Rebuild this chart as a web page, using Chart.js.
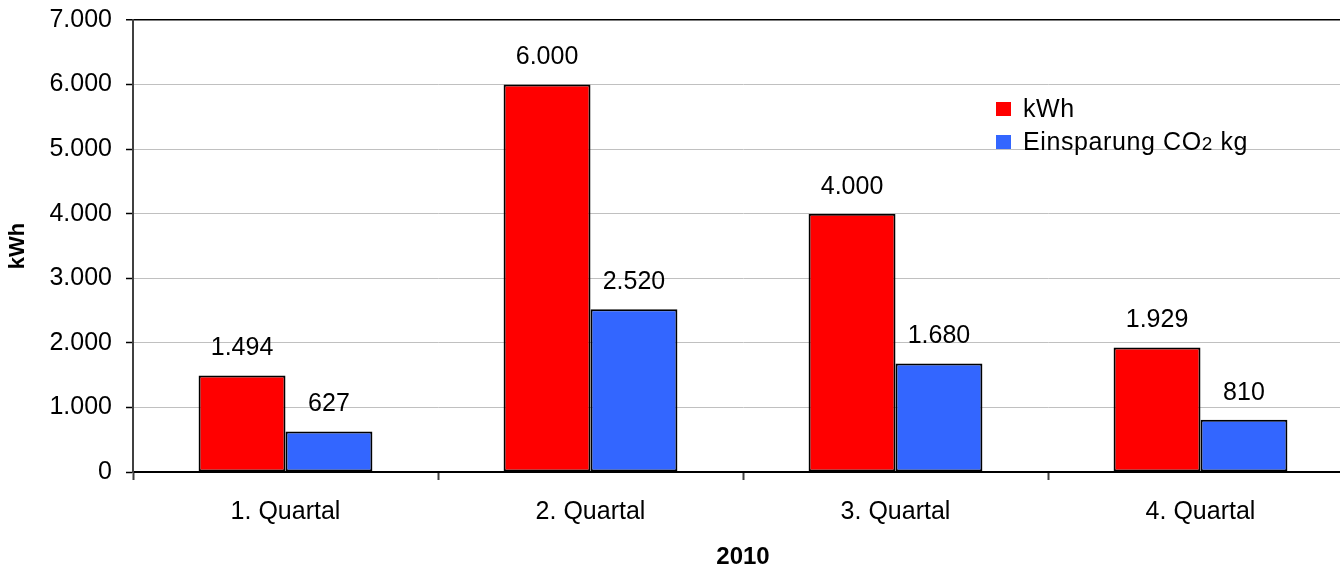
<!DOCTYPE html>
<html>
<head>
<meta charset="utf-8">
<script src="https://cdn.jsdelivr.net/npm/chart.js@4.4.1/dist/chart.umd.min.js"></script>
<style>
  html, body { margin: 0; padding: 0; background: #fff; overflow: hidden; }
  #wrap { width: 1353px; height: 569px; }
</style>
</head>
<body>
<div id="wrap"><canvas id="c" width="1353" height="569"></canvas></div>
<script>
const categories = ['1. Quartal', '2. Quartal', '3. Quartal', '4. Quartal'];
const kwhValues = [1494, 6000, 4000, 1929];
const co2Values = [627, 2520, 1680, 810];
const seriesNames = ['kWh', 'Einsparung CO2 kg'];
const seriesColors = ['#ff0000', '#3366ff'];
const yTicks = [0, 1000, 2000, 3000, 4000, 5000, 6000, 7000];

const FONT = '"Liberation Sans", Arial, sans-serif';

// 1494 -> "1.494"
function fmt(v) {
    return String(Math.round(v)).replace(/\B(?=(\d{3})+(?!\d))/g, '.');
}

// value labels above each bar
const valueLabels = {
    id: 'valueLabels',
    afterDatasetsDraw(chart) {
        const ctx = chart.ctx;
        ctx.save();
        ctx.font = '25px ' + FONT;
        ctx.fillStyle = '#000';
        ctx.textAlign = 'center';
        ctx.textBaseline = 'middle';
        chart.data.datasets.forEach((ds, i) => {
            chart.getDatasetMeta(i).data.forEach((bar, j) => {
                ctx.fillText(fmt(ds.data[j]), bar.x, bar.y - 27);
            });
        });
        ctx.restore();
    }
};

// legend drawn inside the plot, top right
const boxLegend = {
    id: 'boxLegend',
    afterDraw(chart) {
        const ctx = chart.ctx;
        ctx.save();
        ctx.textBaseline = 'middle';
        ctx.letterSpacing = '0.6px';
        seriesNames.forEach((name, i) => {
            const y = 110 + i * 33;
            ctx.fillStyle = seriesColors[i];
            ctx.fillRect(996, y - 8, 15, 14);
            ctx.fillStyle = '#000';
            ctx.font = '25px ' + FONT;
            if (i === 0) {
                ctx.fillText(name, 1023, y);
            } else {
                // smaller "2" in CO2
                ctx.fillText('Einsparung CO', 1023, y);
                let w = ctx.measureText('Einsparung CO').width;
                ctx.font = '19px ' + FONT;
                ctx.fillText('2', 1023 + w, y + 2);
                let w2 = ctx.measureText('2').width;
                ctx.font = '25px ' + FONT;
                ctx.fillText(' kg', 1023 + w + w2, y);
            }
        });
        ctx.restore();
    }
};

new Chart(document.getElementById('c'), {
    type: 'bar',
    data: {
        labels: categories,
        datasets: [
            {
                label: seriesNames[0],
                data: kwhValues,
                backgroundColor: seriesColors[0],
                borderColor: '#000',
                borderWidth: 2,
                borderSkipped: false,
                categoryPercentage: 0.57,
                barPercentage: 1.0
            },
            {
                label: seriesNames[1],
                data: co2Values,
                backgroundColor: seriesColors[1],
                borderColor: '#000',
                borderWidth: 2,
                borderSkipped: false,
                categoryPercentage: 0.57,
                barPercentage: 1.0
            }
        ]
    },
    options: {
        responsive: false,
        animation: false,
        devicePixelRatio: 1,
        layout: { padding: { top: 20, right: 0, left: 0, bottom: 0 } },
        plugins: {
            legend: { display: false },
            tooltip: { enabled: false }
        },
        scales: {
            x: {
                offset: true,
                grid: {
                    offset: true,
                    drawOnChartArea: false,
                    drawTicks: true,
                    tickLength: 8,
                    tickColor: '#404040',
                    tickWidth: 2
                },
                border: { color: '#000', width: 2 },
                ticks: {
                    color: '#000',
                    font: { family: FONT, size: 25 },
                    padding: 17,
                    maxRotation: 0
                },
                title: {
                    display: true,
                    text: '2010',
                    color: '#000',
                    font: { family: FONT, size: 24, weight: 'bold', lineHeight: 1 },
                    padding: { top: 0, bottom: 0 }
                },
                afterFit: s => { s.height = 97; s.paddingLeft = 0; s.paddingRight = 0; }
            },
            y: {
                min: 0,
                max: 7000,
                afterBuildTicks: s => { s.ticks = yTicks.map(v => ({ value: v })); },
                grid: {
                    color: c => (c.tick && c.tick.value === 7000) ? '#000' : '#c0c0c0',
                    lineWidth: c => (c.tick && c.tick.value === 7000) ? 1.5 : 1,
                    tickColor: '#000',
                    tickLength: 7,
                    tickWidth: 1.5
                },
                border: { color: '#404040', width: 2 },
                ticks: {
                    color: '#000',
                    font: { family: FONT, size: 25 },
                    padding: 14,
                    callback: v => fmt(v)
                },
                title: {
                    display: true,
                    text: 'kWh',
                    color: '#000',
                    font: { family: FONT, size: 22, weight: 'bold' },
                    padding: { top: 5, bottom: 0 }
                },
                afterFit: s => { s.width = 133; s.paddingTop = 0; s.paddingBottom = 0; }
            }
        }
    },
    plugins: [valueLabels, boxLegend]
});
</script>
</body>
</html>
